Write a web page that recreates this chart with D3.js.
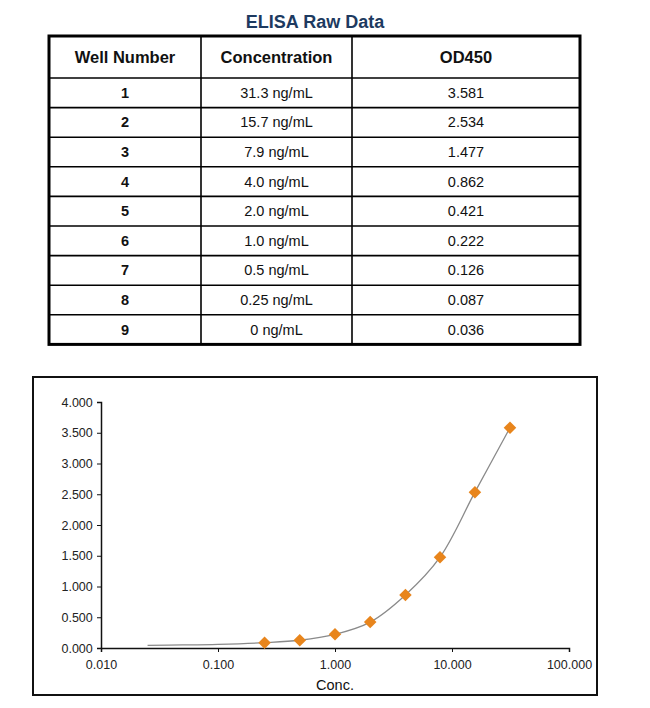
<!DOCTYPE html>
<html>
<head>
<meta charset="utf-8">
<script src="https://cdn.jsdelivr.net/npm/d3@7"></script>
<style>
  body { margin: 0; background: #fff; }
  svg { display: block; font-family: "Liberation Sans", Arial, sans-serif; }
</style>
</head>
<body>
<div id="chart"></div>
<script>
// table data
const wells = ["1", "2", "3", "4", "5", "6", "7", "8", "9"];
const concLabels = ["31.3 ng/mL", "15.7 ng/mL", "7.9 ng/mL", "4.0 ng/mL", "2.0 ng/mL",
  "1.0 ng/mL", "0.5 ng/mL", "0.25 ng/mL", "0 ng/mL"];
const concValues = [31.3, 15.7, 7.9, 4.0, 2.0, 1.0, 0.5, 0.25, 0];
const odValues = [3.581, 2.534, 1.477, 0.862, 0.421, 0.222, 0.126, 0.087, 0.036];
const headers = ["Well Number", "Concentration", "OD450"];

// fitted curve
const curveConc = [0.025, 0.05, 0.1, 0.25, 0.5, 1, 2, 4, 7.9, 15.7, 31.3];
const curveOD = [0.044, 0.05, 0.06, 0.087, 0.126, 0.222, 0.421, 0.862, 1.477, 2.534, 3.581];

const xTicks = [0.01, 0.1, 1, 10, 100];
const yTicks = [0, 0.5, 1, 1.5, 2, 2.5, 3, 3.5, 4];

const width = 650, height = 708;

const svg = d3.select("#chart")
  .append("svg")
  .attr("width", width)
  .attr("height", height);

// title
svg.append("text")
  .attr("x", 315)
  .attr("y", 28)
  .attr("text-anchor", "middle")
  .attr("font-size", 18)
  .attr("font-weight", "bold")
  .attr("fill", "#1d3a60")
  .text("ELISA Raw Data");

// table
const tLeft = 49, tRight = 580, tTop = 36, headH = 42, rowH = 29.6;
const colEdges = [tLeft, 201, 352, tRight];
const tBottom = tTop + headH + rowH * wells.length;
const rowY = (i) => tTop + headH + rowH * i;

const table = svg.append("g");

// inner horizontal lines
wells.forEach((w, i) => {
  table.append("line")
    .attr("x1", tLeft).attr("x2", tRight)
    .attr("y1", rowY(i)).attr("y2", rowY(i))
    .attr("stroke", "#000").attr("stroke-width", 1.6);
});
// inner vertical lines
[colEdges[1], colEdges[2]].forEach((x) => {
  table.append("line")
    .attr("x1", x).attr("x2", x)
    .attr("y1", tTop).attr("y2", tBottom)
    .attr("stroke", "#000").attr("stroke-width", 1.6);
});
table.append("rect")
  .attr("x", tLeft).attr("y", tTop)
  .attr("width", tRight - tLeft).attr("height", tBottom - tTop)
  .attr("fill", "none").attr("stroke", "#000").attr("stroke-width", 3);

const colMid = (c) => (colEdges[c] + colEdges[c + 1]) / 2;

headers.forEach((h, c) => {
  table.append("text")
    .attr("x", colMid(c))
    .attr("y", tTop + headH / 2 + 6)
    .attr("text-anchor", "middle")
    .attr("font-size", 16.5)
    .attr("font-weight", "bold")
    .attr("fill", "#111")
    .text(h);
});

wells.forEach((w, i) => {
  const cy = rowY(i) + rowH / 2 + 5;
  [w, concLabels[i], odValues[i].toFixed(3)].forEach((t, c) => {
    table.append("text")
      .attr("x", colMid(c))
      .attr("y", cy)
      .attr("text-anchor", "middle")
      .attr("font-size", 14.5)
      .attr("font-weight", c === 0 ? "bold" : "normal")
      .attr("fill", "#111")
      .text(t);
  });
});

// chart frame
svg.append("rect")
  .attr("x", 33).attr("y", 377)
  .attr("width", 564).attr("height", 318)
  .attr("fill", "none").attr("stroke", "#111").attr("stroke-width", 2);

const x = d3.scaleLog().domain([0.01, 100]).range([101, 569]);
const y = d3.scaleLinear().domain([0, 4]).range([648, 402]);

const xAxis = svg.append("g")
  .attr("transform", `translate(0, ${y(0)})`)
  .call(d3.axisBottom(x).tickValues(xTicks).tickFormat(d3.format(".3f")).tickSizeOuter(0).tickSize(4));

const yAxis = svg.append("g")
  .attr("transform", `translate(${x(0.01)}, 0)`)
  .call(d3.axisLeft(y).tickValues(yTicks).tickFormat(d3.format(".3f")).tickSizeOuter(0).tickSize(4));

[xAxis, yAxis].forEach((g) => {
  g.select(".domain").attr("stroke", "#111").attr("stroke-width", 1.5);
  g.selectAll(".tick line").attr("stroke", "#111");
  g.selectAll(".tick text")
    .attr("font-size", 12.5)
    .attr("fill", "#222")
    .attr("font-family", "'Liberation Sans', Arial, sans-serif");
});
xAxis.selectAll(".tick text").attr("dy", "1.1em");
yAxis.selectAll(".tick text").attr("dx", "-0.1em");

svg.append("text")
  .attr("x", x(1))
  .attr("y", 690)
  .attr("text-anchor", "middle")
  .attr("font-size", 14.5)
  .attr("fill", "#111")
  .text("Conc.");

// fitted curve
const curveData = curveConc.map((c, i) => ({ c, od: curveOD[i] }));
const line = d3.line()
  .x((d) => x(d.c))
  .y((d) => y(d.od))
  .curve(d3.curveCatmullRom.alpha(0.5));

svg.append("path")
  .datum(curveData)
  .attr("fill", "none")
  .attr("stroke", "#8a8a8a")
  .attr("stroke-width", 1.3)
  .attr("d", line);

// points (0 ng/mL cannot be shown on log axis)
const points = concValues
  .map((c, i) => ({ c, od: odValues[i] }))
  .filter((d) => d.c > 0);

svg.selectAll(".pt")
  .data(points)
  .enter()
  .append("path")
  .attr("class", "pt")
  .attr("transform", (d) => `translate(${x(d.c)}, ${y(d.od)})`)
  .attr("d", d3.symbol().type(d3.symbolDiamond2).size(100))
  .attr("fill", "#e8851c");
</script>
</body>
</html>
